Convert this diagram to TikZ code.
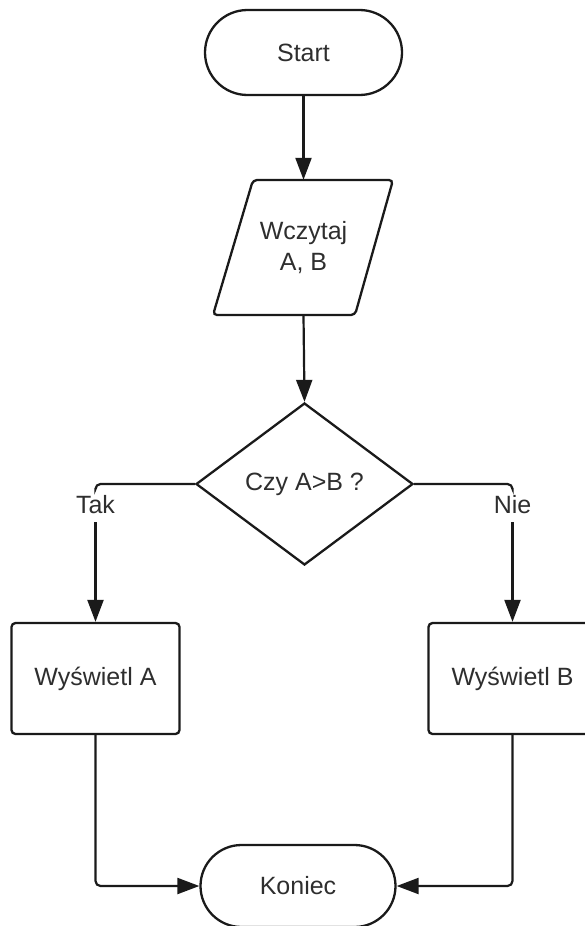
\documentclass[tikz,border=0pt]{standalone}
\usepackage{fontspec}
\setmainfont{Liberation Sans}
\usetikzlibrary{shapes.geometric,shapes.misc,arrows.meta}
\definecolor{ink}{HTML}{1A1A1A}
\definecolor{txt}{HTML}{2E2E2E}
\begin{document}
\begin{tikzpicture}[x=1pt,y=-1pt,
  every node/.style={font=\fontsize{25}{31}\selectfont, text=txt},
  shapeline/.style={draw=ink, line width=2.3pt},
  terminal/.style={shapeline, rounded rectangle, inner sep=0pt},
  procbox/.style={shapeline, rectangle, rounded corners=4pt, minimum width=168pt, minimum height=111pt, inner sep=0pt},
  decision/.style={shapeline, diamond, aspect=1.34, minimum width=217pt, minimum height=162pt, inner sep=0pt},
  edgelabel/.style={fill=white, inner sep=0pt, minimum height=34pt},
  link/.style={draw=ink, line width=2.2pt, rounded corners=5pt},
  flow/.style={link, -{Triangle[length=22pt,width=16pt]}}]
\useasboundingbox (0,0) rectangle (585,926);
\clip (0,0) rectangle (585,926);
% nodes
\node[terminal, minimum width=197pt, minimum height=85pt] (start) at (303.5,52.5) {Start};
\draw[shapeline, rounded corners=4pt] (253,180) -- (393,180) -- (355,315) -- (213,315) -- cycle;
\node[align=center, minimum width=180pt, minimum height=135pt, inner sep=0pt] (read) at (303.5,247.5) {Wczytaj\\A, B};
\node[decision] (cond) at (304.5,484) {Czy A>B ?};
\node[edgelabel] (tak) at (95.5,505) {Tak};
\node[edgelabel] (nie) at (512.5,505) {Nie};
\node[procbox] (boxA) at (95.5,678.5) {Wyświetl A};
\node[procbox] (boxB) at (512.5,678.5) {Wyświetl B};
\node[terminal, minimum width=195pt, minimum height=82pt] (end) at (298,886) {Koniec};
% connectors
\draw[flow] (start.south) -- (read.north);
\draw[flow] (read.south) -- (cond.north);
\draw[link] (cond.west) -| (tak.north);
\draw[link] (cond.east) -| (nie.north);
\draw[flow] (tak.south) -- (boxA.north);
\draw[flow] (nie.south) -- (boxB.north);
\draw[flow] (boxA.south) |- (end.west);
\draw[flow] (boxB.south) |- (end.east);
\end{tikzpicture}
\end{document}
